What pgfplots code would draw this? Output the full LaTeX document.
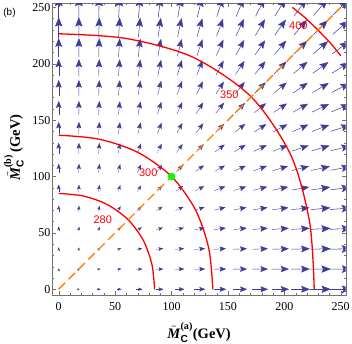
\documentclass[border=0pt]{standalone}
\usepackage{fontspec}
\usepackage{amsmath}
\setmainfont{Liberation Serif}
\setsansfont{Liberation Sans}
\usepackage{pgfplots}
\pgfplotsset{compat=1.18}
\usepackage{pgfplotstable}
\usetikzlibrary{arrows.meta}

\definecolor{arrowblue}{rgb}{0.24,0.24,0.6}
\definecolor{framegray}{gray}{0.45}

% vector field on the 15x15 grid: position, arrow components (GeV)
\pgfplotstableread{
x y u v
0 17.86 0 1.40
0 35.71 0 2.80
0 53.57 0 4.20
0 71.43 0 5.60
0 89.29 0 7.00
0 107.14 0 8.40
0 125 0 9.80
0 142.86 0 11.20
0 160.71 0 12.60
0 178.57 0 14.00
0 196.43 0 15.40
0 214.29 0 16.80
0 232.14 0 18.20
0 250 0 19.60
17.86 0 1.40 0
17.86 17.86 0.99 0.99
17.86 35.71 0.63 2.50
17.86 53.57 0.44 3.98
17.86 71.43 0.34 5.43
17.86 89.29 0.27 6.86
17.86 107.14 0.23 8.29
17.86 125 0.20 9.70
17.86 142.86 0.17 11.11
17.86 160.71 0.15 12.52
17.86 178.57 0.14 13.93
17.86 196.43 0.13 15.34
17.86 214.29 0.12 16.74
17.86 232.14 0.11 18.15
17.86 250 0.10 19.55
35.71 0 2.80 0
35.71 17.86 2.50 0.63
35.71 35.71 1.98 1.98
35.71 53.57 1.55 3.49
35.71 71.43 1.25 5.01
35.71 89.29 1.04 6.50
35.71 107.14 0.89 7.97
35.71 125 0.77 9.42
35.71 142.86 0.68 10.87
35.71 160.71 0.61 12.30
35.71 178.57 0.55 13.73
35.71 196.43 0.50 15.15
35.71 214.29 0.46 16.57
35.71 232.14 0.43 17.99
35.71 250 0.40 19.40
53.57 0 4.20 0
53.57 17.86 3.98 0.44
53.57 35.71 3.49 1.55
53.57 53.57 2.97 2.97
53.57 71.43 2.52 4.48
53.57 89.29 2.16 6.00
53.57 107.14 1.88 7.51
53.57 125 1.65 9.01
53.57 142.86 1.47 10.49
53.57 160.71 1.33 11.95
53.57 178.57 1.21 13.41
53.57 196.43 1.11 14.86
53.57 214.29 1.02 16.30
53.57 232.14 0.94 17.73
53.57 250 0.88 19.17
71.43 0 5.60 0
71.43 17.86 5.43 0.34
71.43 35.71 5.01 1.25
71.43 53.57 4.48 2.52
71.43 71.43 3.96 3.96
71.43 89.29 3.50 5.47
71.43 107.14 3.11 6.99
71.43 125 2.78 8.51
71.43 142.86 2.50 10.02
71.43 160.71 2.27 11.51
71.43 178.57 2.08 13.00
71.43 196.43 1.91 14.47
71.43 214.29 1.77 15.94
71.43 232.14 1.65 17.40
71.43 250 1.54 18.85
89.29 0 7.00 0
89.29 17.86 6.86 0.27
89.29 35.71 6.50 1.04
89.29 53.57 6.00 2.16
89.29 71.43 5.47 3.50
89.29 89.29 4.95 4.95
89.29 107.14 4.48 6.45
89.29 125 4.07 7.98
89.29 142.86 3.71 9.50
89.29 160.71 3.40 11.01
89.29 178.57 3.13 12.52
89.29 196.43 2.90 14.02
89.29 214.29 2.69 15.51
89.29 232.14 2.51 16.99
89.29 250 2.35 18.46
107.14 0 8.40 0
107.14 17.86 8.29 0.23
107.14 35.71 7.97 0.89
107.14 53.57 7.51 1.88
107.14 71.43 6.99 3.11
107.14 89.29 6.45 4.48
107.14 107.14 5.94 5.94
107.14 125 5.47 7.44
107.14 142.86 5.04 8.96
107.14 160.71 4.66 10.48
107.14 178.57 4.32 12.01
107.14 196.43 4.02 13.52
107.14 214.29 3.76 15.03
107.14 232.14 3.52 16.53
107.14 250 3.31 18.02
125 0 9.80 0
125 17.86 9.70 0.20
125 35.71 9.42 0.77
125 53.57 9.01 1.65
125 71.43 8.51 2.78
125 89.29 7.98 4.07
125 107.14 7.44 5.47
125 125 6.93 6.93
125 142.86 6.45 8.43
125 160.71 6.02 9.95
125 178.57 5.62 11.47
125 196.43 5.26 12.99
125 214.29 4.94 14.51
125 232.14 4.65 16.02
125 250 4.38 17.53
142.86 0 11.20 0
142.86 17.86 11.11 0.17
142.86 35.71 10.87 0.68
142.86 53.57 10.49 1.47
142.86 71.43 10.02 2.50
142.86 89.29 9.50 3.71
142.86 107.14 8.96 5.04
142.86 125 8.43 6.45
142.86 142.86 7.92 7.92
142.86 160.71 7.44 9.42
142.86 178.57 7.00 10.93
142.86 196.43 6.59 12.46
142.86 214.29 6.21 13.98
142.86 232.14 5.87 15.50
142.86 250 5.56 17.02
160.71 0 12.60 0
160.71 17.86 12.52 0.15
160.71 35.71 12.30 0.61
160.71 53.57 11.95 1.33
160.71 71.43 11.51 2.27
160.71 89.29 11.01 3.40
160.71 107.14 10.48 4.66
160.71 125 9.95 6.02
160.71 142.86 9.42 7.44
160.71 160.71 8.91 8.91
160.71 178.57 8.43 10.41
160.71 196.43 7.98 11.92
160.71 214.29 7.56 13.44
160.71 232.14 7.17 14.96
160.71 250 6.81 16.49
178.57 0 14.00 0
178.57 17.86 13.93 0.14
178.57 35.71 13.73 0.55
178.57 53.57 13.41 1.21
178.57 71.43 13.00 2.08
178.57 89.29 12.52 3.13
178.57 107.14 12.01 4.32
178.57 125 11.47 5.62
178.57 142.86 10.93 7.00
178.57 160.71 10.41 8.43
178.57 178.57 9.90 9.90
178.57 196.43 9.42 11.40
178.57 214.29 8.96 12.91
178.57 232.14 8.54 14.43
178.57 250 8.14 15.95
196.43 0 15.40 0
196.43 17.86 15.34 0.13
196.43 35.71 15.15 0.50
196.43 53.57 14.86 1.11
196.43 71.43 14.47 1.91
196.43 89.29 14.02 2.90
196.43 107.14 13.52 4.02
196.43 125 12.99 5.26
196.43 142.86 12.46 6.59
196.43 160.71 11.92 7.98
196.43 178.57 11.40 9.42
196.43 196.43 10.89 10.89
196.43 214.29 10.41 12.38
196.43 232.14 9.95 13.89
196.43 250 9.52 15.41
214.29 0 16.80 0
214.29 17.86 16.74 0.12
214.29 35.71 16.57 0.46
214.29 53.57 16.30 1.02
214.29 71.43 15.94 1.77
214.29 89.29 15.51 2.69
214.29 107.14 15.03 3.76
214.29 125 14.51 4.94
214.29 142.86 13.98 6.21
214.29 160.71 13.44 7.56
214.29 178.57 12.91 8.96
214.29 196.43 12.38 10.41
214.29 214.29 11.88 11.88
214.29 232.14 11.40 13.37
214.29 250 10.93 14.88
232.14 0 18.20 0
232.14 17.86 18.15 0.11
232.14 35.71 17.99 0.43
232.14 53.57 17.73 0.94
232.14 71.43 17.40 1.65
232.14 89.29 16.99 2.51
232.14 107.14 16.53 3.52
232.14 125 16.02 4.65
232.14 142.86 15.50 5.87
232.14 160.71 14.96 7.17
232.14 178.57 14.43 8.54
232.14 196.43 13.89 9.95
232.14 214.29 13.37 11.40
232.14 232.14 12.87 12.87
232.14 250 12.38 14.36
250 0 19.60 0
250 17.86 19.55 0.10
250 35.71 19.40 0.40
250 53.57 19.17 0.88
250 71.43 18.85 1.54
250 89.29 18.46 2.35
250 107.14 18.02 3.31
250 125 17.53 4.38
250 142.86 17.02 5.56
250 160.71 16.49 6.81
250 178.57 15.95 8.14
250 196.43 15.41 9.52
250 214.29 14.88 10.93
250 232.14 14.36 12.38
250 250 13.86 13.86
}\field

\begin{document}
\begin{tikzpicture}
\begin{axis}[
    scale only axis,
    width=293.4pt, height=292pt,
    xmin=-5.7, xmax=254.4,
    ymin=-5.1, ymax=253.8,
    xtick={0,50,...,250}, ytick={0,50,...,250},
    minor tick num=4,
    tick align=inside,
    major tick length=4pt, minor tick length=2pt,
    axis line style={framegray},
    tick style={framegray},
    /pgf/number format/assume math mode=true,
    ticklabel style={font=\fontsize{12}{14}\selectfont},
    xticklabel style={yshift=-4pt},
    yticklabel style={xshift=1.5pt},
    every axis x label/.style={at={(axis description cs:0.5,-0.150)}, anchor=base},
    every axis y label/.style={at={(axis description cs:-0.1101,0.505)}, rotate=90, anchor=base},
    label style={font=\fontsize{14.5}{17}\selectfont\bfseries},
    xlabel={$\tilde{\textbf{\textit{M}}}_{\textsf{C}}^{\textbf{(a)}}$(GeV)},
    ylabel={$\tilde{\textbf{\textit{M}}}_{\textsf{C}}^{\textbf{(b)}}$\,(GeV)},
    ]
    % vector field, arrows centred on the grid points
    \addplot[arrowblue, -{Stealth[length=0pt 18, width=0pt 14, inset=0pt 3]},
        point meta={sqrt((\thisrow{u})^2+(\thisrow{v})^2)},
        point meta min=0, point meta max=19.6,
        quiver={u=\thisrow{u}, v=\thisrow{v},
            every arrow/.append style={line width=0.1pt+0.45pt*\pgfplotspointmetatransformed/1000}},
    ] table[x expr=\thisrow{x}-0.5*\thisrow{u}, y expr=\thisrow{y}-0.5*\thisrow{v}] {\field};

    % contours
    \addplot[red, line width=1.3pt, smooth] coordinates {
        (85,0) (82.6,22.1) (75.0,43.3) (61.6,61.6) (43.3,75.0) (22.1,82.6) (0,85)};
    \addplot[red, line width=1.3pt, smooth] coordinates {
        (136.6,0) (133.1,35.7) (121.4,70.1) (100,100) (70.1,121.4) (35.7,133.1) (0,136.6)};
    \addplot[red, line width=1.3pt, smooth] coordinates {
        (226.5,0) (222.4,59.6) (205.8,118.8) (170.6,170.6) (118.8,205.8) (59.6,222.4) (0,226.5)};
    \addplot[red, line width=1.3pt, smooth] coordinates {
        (250,207) (241.5,217.5) (229.8,229.8) (217.5,241.5) (207,250)};

    % diagonal
    \addplot[orange, line width=1.4pt, dash pattern=on 9pt off 5pt] coordinates {(0,0) (250,250)};
    \addplot[only marks, mark=*, mark size=3.5pt, green] coordinates {(100,100)};

    \begin{scope}[font=\sffamily\fontsize{11}{12}\selectfont, red]
        \node at (axis cs:39,62) {280};
        \node at (axis cs:79.4,103.5) {300};
        \node at (axis cs:151.3,172.2) {350};
        \node at (axis cs:212.4,233.4) {400};
    \end{scope}
\end{axis}
\node[font=\sffamily\fontsize{10}{12}\selectfont] at ([xshift=-42.8pt,yshift=-10pt]current axis.north west) {(b)};
\pgfresetboundingbox
\path ([xshift=-52.3pt,yshift=-48pt]current axis.south west) rectangle ([xshift=6.3pt,yshift=3pt]current axis.north east);
\end{tikzpicture}
\end{document}
